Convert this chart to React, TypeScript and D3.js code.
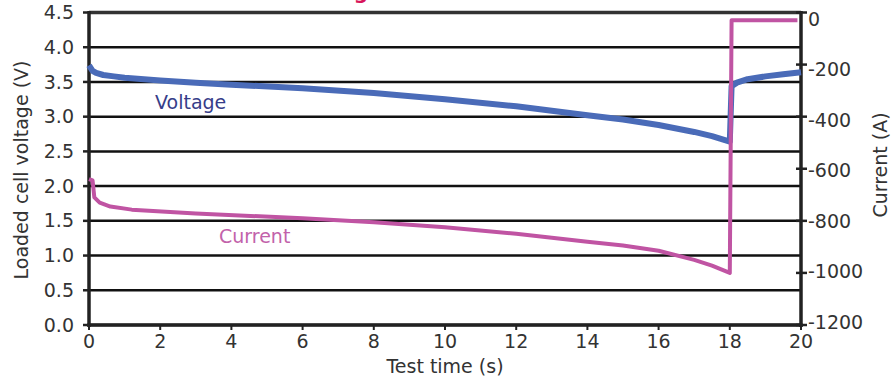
import React from "react";
import * as d3 from "d3";

// readings
const voltageTime = [0, 0.05, 0.1, 0.2, 0.4, 0.7, 1, 2, 3, 4, 6, 8, 10, 12, 14, 15, 16, 17, 17.5, 18, 18.05, 18.2, 18.5, 19, 19.5, 20];
const voltageValues = [3.74, 3.7, 3.66, 3.63, 3.6, 3.58, 3.56, 3.52, 3.49, 3.46, 3.41, 3.34, 3.25, 3.15, 3.02, 2.96, 2.88, 2.78, 2.72, 2.64, 3.44, 3.49, 3.54, 3.58, 3.61, 3.64];

const currentTime = [0, 0.1, 0.15, 0.3, 0.6, 1.2, 3, 6, 8, 10, 12, 14, 15, 16, 17, 17.5, 18, 18.05, 19.9];
const currentValues = [-640, -645, -710, -730, -745, -757, -772, -790, -805, -825, -850, -880, -895, -915, -950, -972, -1000, -30, -30];

const timeTicks = [0, 2, 4, 6, 8, 10, 12, 14, 16, 18, 20];
const voltageTicks = [0, 0.5, 1, 1.5, 2, 2.5, 3, 3.5, 4, 4.5];
const currentTicks = [0, -200, -400, -600, -800, -1000, -1200];

const W = 892;
const H = 376;
const font = "'DejaVu Sans', sans-serif";

export default function App() {
  const x = d3.scaleLinear().domain([0, 20]).range([89, 801]);
  const yV = d3.scaleLinear().domain([0, 4.5]).range([325, 12.5]);
  const yI = d3.scaleLinear().domain([-1200, 0]).range([325, 12.5]);
  // right labels sit slightly off their ticks in the original
  const yILabel = d3.scaleLinear().domain([-1200, 0]).range([322, 19]);

  const vLine = d3.line<number>()
    .x((_, i) => x(voltageTime[i]))
    .y(d => yV(d));
  const iLine = d3.line<number>()
    .x((_, i) => x(currentTime[i]))
    .y(d => yI(d));

  const [x0, x1] = x.range();

  return (
    <svg width={W} height={H} style={{ position: "absolute", left: 0, top: 0, background: "#fff" }} fontFamily={font}>
      {/* chart title, mostly cut off above the frame */}
      <text x={368} y={-1} textAnchor="end" fontSize={20} fontWeight="bold" fill="#d8155a">Testing</text>

      {/* gridlines */}
      {voltageTicks.map(t => (
        <line key={"g" + t} x1={x0} x2={x1} y1={yV(t)} y2={yV(t)}
          stroke={t === 4.5 ? "#333" : "#111"} strokeWidth={t === 4.5 ? 3.5 : 2.5} />
      ))}

      {/* left axis */}
      <line x1={x0} x2={x0} y1={yV(4.5) - 1.5} y2={yV(0) + 2} stroke="#222" strokeWidth={3.5} />
      {voltageTicks.map(t => (
        <g key={"l" + t}>
          <line x1={x0 - 6} x2={x0} y1={yV(t)} y2={yV(t)} stroke="#222" strokeWidth={2.5} />
          <text x={74} y={yV(t)} dy="0.35em" textAnchor="end" fontSize={19} fill="#333">{t.toFixed(1)}</text>
        </g>
      ))}

      {/* right axis */}
      <line x1={x1} x2={x1} y1={yI(0) - 1.5} y2={yI(-1200) + 2} stroke="#222" strokeWidth={3.5} />
      {currentTicks.map(t => (
        <g key={"r" + t}>
          <line x1={x1 - 5} x2={x1 + 6} y1={yI(t)} y2={yI(t)} stroke="#222" strokeWidth={2.5} />
          <text x={808} y={yILabel(t)} dy="0.35em" textAnchor="start" fontSize={19} fill="#333">{t}</text>
        </g>
      ))}

      {/* bottom axis */}
      <line x1={x0 - 1.5} x2={x1 + 1.5} y1={yV(0)} y2={yV(0)} stroke="#222" strokeWidth={3.5} />
      {timeTicks.map(t => (
        <g key={"b" + t}>
          <line x1={x(t)} x2={x(t)} y1={yV(0)} y2={yV(0) + 5} stroke="#222" strokeWidth={2} />
          <text x={x(t)} y={341} dy="0.35em" textAnchor="middle" fontSize={19} fill="#333">{t}</text>
        </g>
      ))}

      {/* axis titles */}
      <text x={445} y={373} textAnchor="middle" fontSize={19} fill="#333">Test time (s)</text>
      <text transform="translate(28,170) rotate(-90)" textAnchor="middle" fontSize={19} fill="#333">Loaded cell voltage (V)</text>
      <text transform="translate(887,165) rotate(-90)" textAnchor="middle" fontSize={19} fill="#333">Current (A)</text>

      {/* series */}
      <path d={vLine(voltageValues) || ""} fill="none" stroke="#4a6bb8" strokeWidth={6} strokeLinejoin="round" />
      <path d={iLine(currentValues) || ""} fill="none" stroke="#c054a3" strokeWidth={4} strokeLinejoin="round" />

      <text x={155} y={109} fontSize={19} fill="#363d89">Voltage</text>
      <text x={219} y={243} fontSize={19} fill="#c262aa">Current</text>
    </svg>
  );
}
